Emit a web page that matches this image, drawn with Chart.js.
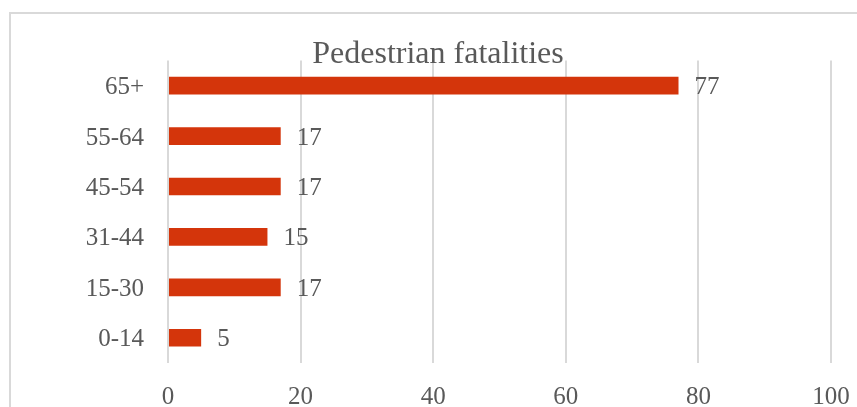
<!DOCTYPE html>
<html>
<head>
<meta charset="utf-8">
<title>Pedestrian fatalities</title>
<script src="https://cdn.jsdelivr.net/npm/chart.js@4.4.1/dist/chart.umd.min.js"></script>
<style>
  html, body { margin: 0; padding: 0; background: #fff; overflow: hidden; }
  #frame {
    position: absolute; left: 9px; top: 12px;
    width: 900px; height: 500px;
    border: 2px solid #d9d9d9;
  }
  #chart { position: absolute; left: 0; top: 0; }
</style>
</head>
<body>
<div id="frame"></div>
<canvas id="chart" width="857" height="407"></canvas>
<script>
// age groups, top to bottom
const ageGroups = ['65+', '55-64', '45-54', '31-44', '15-30', '0-14'];
const fatalities = [77, 17, 17, 15, 17, 5];
const xTicks = [0, 20, 40, 60, 80, 100];

const textColor = '#595959';
const barColor = '#d4350b';
const serif = "'Liberation Serif', 'Times New Roman', serif";

// value label to the right of each bar
const valueLabels = {
    id: 'valueLabels',
    afterDatasetsDraw(chart) {
        const ctx = chart.ctx;
        ctx.save();
        ctx.font = '25px ' + serif;
        ctx.fillStyle = textColor;
        ctx.textAlign = 'left';
        ctx.textBaseline = 'middle';
        chart.getDatasetMeta(0).data.forEach((bar, i) => {
            ctx.fillText(String(fatalities[i]), bar.x + 16, bar.y + 2);
        });
        ctx.restore();
    }
};

new Chart(document.getElementById('chart'), {
    type: 'bar',
    data: {
        labels: ageGroups,
        datasets: [{
            data: fatalities,
            backgroundColor: barColor,
            borderWidth: 0,
            barPercentage: 0.35,
            categoryPercentage: 1
        }]
    },
    options: {
        indexAxis: 'y',
        responsive: false,
        animation: false,
        layout: { padding: { left: 45, right: 26, top: 0, bottom: 0 } },
        scales: {
            x: {
                min: 0,
                max: 100,
                afterBuildTicks: (axis) => { axis.ticks = xTicks.map(v => ({ value: v })); },
                afterFit: (axis) => {
                    axis.height = 44;
                    axis.paddingLeft = 0;
                    axis.paddingRight = 0;
                },
                grid: { color: '#d9d9d9', lineWidth: 2, drawTicks: false },
                border: { display: false },
                ticks: { color: textColor, font: { family: serif, size: 25 }, padding: 19 }
            },
            y: {
                afterFit: (axis) => { axis.width = 123; },
                grid: { display: false, drawTicks: false },
                border: { display: false },
                ticks: { color: textColor, font: { family: serif, size: 25 }, padding: 24, labelOffset: 2 }
            }
        },
        plugins: {
            legend: { display: false },
            tooltip: { enabled: false },
            title: {
                display: true,
                text: 'Pedestrian fatalities',
                color: textColor,
                font: { family: serif, size: 32, weight: 'normal' },
                padding: { top: 35, bottom: -13 }
            }
        }
    },
    plugins: [valueLabels]
});
</script>
</body>
</html>
